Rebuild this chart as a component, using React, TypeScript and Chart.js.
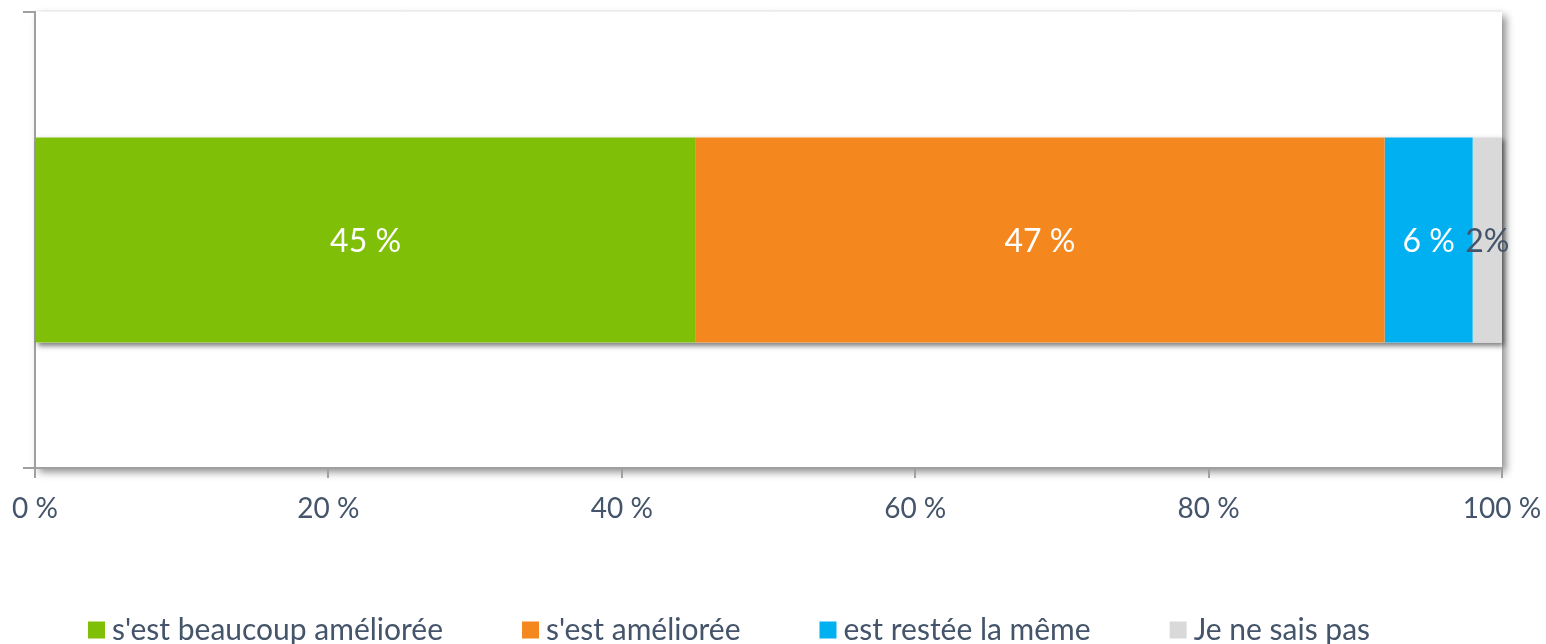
import React, { useEffect, useRef } from 'react';
import { Chart, registerables } from 'chart.js';

Chart.register(...registerables);

const categories = [''];
const seriesNames = ["s'est beaucoup améliorée", "s'est améliorée", 'est restée la même', 'Je ne sais pas'];
const seriesValues = [[45], [47], [6], [2]];
const valueLabels = ['45 %', '47 %', '6 %', '2%'];
const seriesColors = ['#7FBF07', '#F5871F', '#00B0F0', '#D9D9D9'];
const labelColors = ['#FFFFFF', '#FFFFFF', '#FFFFFF', '#44546A'];
const xMin = 0;
const xMax = 100;
const xStep = 20;

const FONT = 'Lato, "Open Sans", sans-serif';
const TEXT = '#44546A';
const AXIS = '#A0A0A0';

const plotShadow = {
  id: 'plotShadow',
  beforeDraw(chart: any) {
    const { ctx, chartArea: a } = chart;
    ctx.save();
    ctx.shadowColor = 'rgba(0,0,0,0.45)';
    ctx.shadowBlur = 8;
    ctx.shadowOffsetX = 4;
    ctx.shadowOffsetY = 4;
    ctx.fillStyle = '#FFFFFF';
    ctx.fillRect(a.left, a.top, a.right - a.left, a.bottom - a.top);
    ctx.restore();
    ctx.save();
    ctx.strokeStyle = 'rgba(0,0,0,0.04)';
    ctx.lineWidth = 1;
    ctx.beginPath();
    ctx.moveTo(a.left, a.top - 1.5);
    ctx.lineTo(a.right, a.top - 1.5);
    ctx.stroke();
    ctx.restore();
  },
};

const barShadow = {
  id: 'barShadow',
  beforeDatasetsDraw(chart: any) {
    const { ctx } = chart;
    const n = chart.data.datasets.length;
    const first = chart.getDatasetMeta(0).data;
    const last = chart.getDatasetMeta(n - 1).data;
    first.forEach((el: any, i: number) => {
      const l = last[i];
      const left = Math.min(el.base, el.x);
      const right = Math.max(l.base, l.x);
      const top = el.y - el.height / 2;
      ctx.save();
      ctx.shadowColor = 'rgba(0,0,0,0.5)';
      ctx.shadowBlur = 5;
      ctx.shadowOffsetX = 2;
      ctx.shadowOffsetY = 3;
      ctx.fillStyle = '#FFFFFF';
      ctx.fillRect(left, top, right - left, el.height);
      ctx.restore();
    });
  },
};

const valueLabelsPlugin = {
  id: 'valueLabels',
  afterDatasetsDraw(chart: any) {
    const { ctx } = chart;
    chart.data.datasets.forEach((ds: any, di: number) => {
      const meta = chart.getDatasetMeta(di);
      meta.data.forEach((el: any) => {
        const cx = (el.x + el.base) / 2;
        ctx.save();
        ctx.font = `32px ${FONT}`;
        ctx.fillStyle = labelColors[di];
        ctx.textAlign = 'center';
        ctx.textBaseline = 'middle';
        ctx.fillText(valueLabels[di], cx, el.y + 2);
        ctx.restore();
      });
    });
  },
};

// Legend drawn in the space reserved below the axis
const LEGEND_BOX = 17;
const LEGEND_TEXT_GAP = 7;
const LEGEND_ITEM_GAP = 79;
const customLegend = {
  id: 'customLegend',
  afterDraw(chart: any) {
    const { ctx } = chart;
    const y = chart.height - 14;
    let x = chart.chartArea.left + 53;
    ctx.save();
    ctx.font = `30px ${FONT}`;
    ctx.textBaseline = 'middle';
    ctx.textAlign = 'left';
    chart.data.datasets.forEach((ds: any) => {
      ctx.fillStyle = ds.backgroundColor;
      ctx.fillRect(x, y - LEGEND_BOX / 2, LEGEND_BOX, LEGEND_BOX);
      x += LEGEND_BOX + LEGEND_TEXT_GAP;
      ctx.fillStyle = TEXT;
      ctx.fillText(ds.label, x, y);
      x += ctx.measureText(ds.label).width + LEGEND_ITEM_GAP;
    });
    ctx.restore();
  },
};

export default function App() {
  const ref = useRef<HTMLCanvasElement | null>(null);
  useEffect(() => {
    if (!ref.current) return;
    const chart = new Chart(ref.current, {
      type: 'bar',
      data: {
        labels: categories,
        datasets: seriesNames.map((name, i) => ({
          label: name,
          data: seriesValues[i],
          backgroundColor: seriesColors[i],
          borderWidth: 0,
          barPercentage: 0.9,
          categoryPercentage: 0.5,
        })),
      },
      options: {
        indexAxis: 'y',
        responsive: false,
        animation: false,
        events: [],
        layout: { padding: { left: 23, right: 44, top: 12, bottom: 104 } },
        scales: {
          x: {
            stacked: true,
            min: xMin,
            max: xMax,
            ticks: {
              stepSize: xStep,
              color: TEXT,
              font: { family: FONT, size: 28, lineHeight: 2.0 },
              padding: 3,
              callback: (v: any) => `${v} %`,
            },
            grid: { drawOnChartArea: false, drawTicks: true, tickLength: 10, color: AXIS, lineWidth: 2 },
            border: { color: AXIS, width: 2 },
          },
          y: {
            stacked: true,
            ticks: { display: false },
            grid: { drawOnChartArea: false, drawTicks: true, tickLength: 12, color: AXIS, lineWidth: 2, offset: true },
            border: { color: AXIS, width: 2 },
          },
        },
        plugins: {
          legend: { display: false },
          tooltip: { enabled: false },
        },
      },
      plugins: [plotShadow, barShadow, valueLabelsPlugin, customLegend],
    } as any);
    return () => chart.destroy();
  }, []);
  return (
    <div style={{ position: 'fixed', left: 0, top: 0, width: 1546, height: 644, background: '#FFFFFF' }}>
      <canvas ref={ref} width={1546} height={644} style={{ display: 'block' }} />
    </div>
  );
}
